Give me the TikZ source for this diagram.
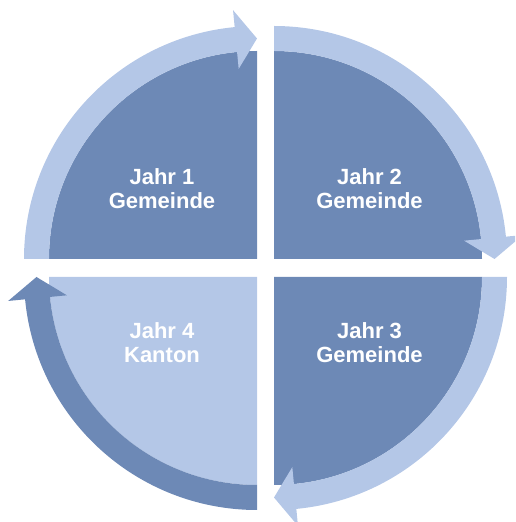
\documentclass[tikz,border=0pt]{standalone}
\usepackage{fontspec}
\setmainfont{Liberation Sans}
\definecolor{darkblue}{HTML}{6D89B6}
\definecolor{lightblue}{HTML}{B4C7E7}
\tikzset{
    year/.style={text=white, align=center, font=\bfseries\fontsize{22}{24}\selectfont},
}
\begin{document}
\begin{tikzpicture}[x=1pt, y=1pt]
    \useasboundingbox (0,0) rectangle (515,522);
    \clip (0,0) rectangle (515,522);
    % Corners of the quarters
    \coordinate (tl) at (257,263);
    \coordinate (tr) at (274,263);
    \coordinate (br) at (274,245);
    \coordinate (bl) at (257,245);

    % Top left: Jahr 1
    \begin{scope}[shift={(tl)}]
        \fill[darkblue] (0,0) -- (180:208) arc[start angle=180, end angle=90, radius=208] -- cycle;
    \end{scope}
    % Top right: Jahr 2
    \begin{scope}[shift={(tr)}]
        \fill[darkblue] (0,0) -- (90:208) arc[start angle=90, end angle=0, radius=208] -- cycle;
    \end{scope}
    % Bottom right: Jahr 3
    \begin{scope}[shift={(br)}]
        \fill[darkblue] (0,0) -- (0:208) arc[start angle=0, end angle=-90, radius=208] -- cycle;
    \end{scope}
    % Bottom left: Jahr 4
    \begin{scope}[shift={(bl)}]
        \fill[lightblue] (0,0) -- (-90:208) arc[start angle=-90, end angle=-180, radius=208] -- cycle;
    \end{scope}

    % Arrows round the circle
    \begin{scope}[shift={(tl)}]
        \fill[lightblue] (180:208) arc[start angle=180, end angle=95.5, radius=208]
            -- (95.5:191) -- (90:220.5) -- (95.5:250) -- (95.5:233)
            arc[start angle=95.5, end angle=180, radius=233] -- cycle;
    \end{scope}
    \begin{scope}[shift={(tr)}]
        \fill[lightblue] (90:208) arc[start angle=90, end angle=5.5, radius=208]
            -- (5.5:191) -- (0:220.5) -- (5.5:250) -- (5.5:233)
            arc[start angle=5.5, end angle=90, radius=233] -- cycle;
    \end{scope}
    \begin{scope}[shift={(br)}]
        \fill[lightblue] (0:208) arc[start angle=0, end angle=-84.5, radius=208]
            -- (-84.5:191) -- (-90:220.5) -- (-84.5:250) -- (-84.5:233)
            arc[start angle=-84.5, end angle=0, radius=233] -- cycle;
    \end{scope}
    \begin{scope}[shift={(bl)}]
        \fill[darkblue] (-90:208) arc[start angle=-90, end angle=-174.5, radius=208]
            -- (-174.5:191) -- (180:220.5) -- (-174.5:250) -- (-174.5:233)
            arc[start angle=-174.5, end angle=-90, radius=233] -- cycle;
    \end{scope}

    % Labels
    \node[year] (jahr1) at (162,333) {Jahr 1\\Gemeinde};
    \node[year] (jahr2) at (369.5,333) {Jahr 2\\Gemeinde};
    \node[year] (jahr3) at (369.5,179) {Jahr 3\\Gemeinde};
    \node[year] (jahr4) at (162,179) {Jahr 4\\Kanton};
\end{tikzpicture}
\end{document}
